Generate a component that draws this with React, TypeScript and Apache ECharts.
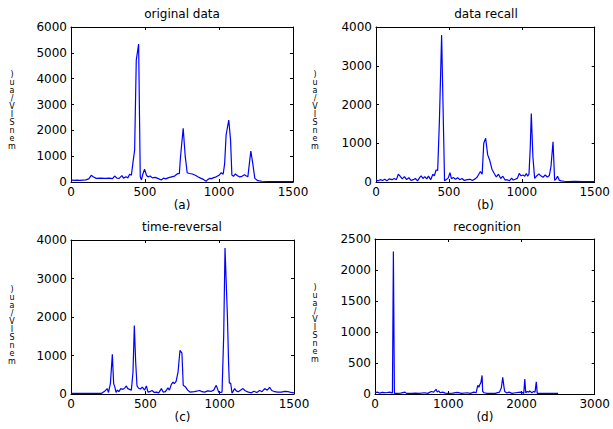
import React, { useEffect, useRef } from "react";
import * as echarts from "echarts";

// ---- data (x, y pairs) ----
const originalData: [number, number][] = [
  [0, 80], [20, 60], [40, 70], [60, 60], [80, 70], [100, 80], [120, 120], [137, 260], [150, 200], [170, 140],
  [200, 150], [230, 140], [260, 150], [280, 130], [295, 230], [310, 150], [325, 140], [344, 245], [355, 150],
  [372, 200], [385, 160], [396, 300], [408, 260], [418, 720], [430, 1240], [441, 4720], [457, 5340], [463, 2500],
  [468, 200], [476, 80], [485, 300], [497, 500], [510, 260], [520, 200], [535, 230], [550, 160], [570, 180],
  [590, 130], [610, 80], [625, 150], [640, 120], [660, 170], [680, 200], [700, 230], [715, 300], [722, 330],
  [732, 320], [740, 980], [758, 2080], [772, 980], [785, 360], [800, 330], [820, 310], [840, 260], [857, 200],
  [875, 150], [895, 100], [913, 30], [925, 100], [936, 140], [950, 130], [965, 170], [981, 200], [1000, 260],
  [1015, 360], [1028, 300], [1038, 700], [1048, 1820], [1066, 2400], [1078, 1630], [1087, 270], [1098, 220],
  [1111, 310], [1125, 240], [1140, 200], [1155, 220], [1172, 280], [1185, 230], [1195, 200], [1205, 700],
  [1215, 1200], [1228, 720], [1242, 140], [1262, 50], [1290, 30], [1330, 20], [1400, 15], [1450, 15], [1500, 15],
];

const recallData: [number, number][] = [
  [0, 50], [15, 30], [30, 60], [45, 40], [60, 70], [75, 30], [90, 80], [110, 60], [125, 90], [140, 60],
  [153, 200], [165, 150], [180, 80], [195, 140], [210, 60], [225, 110], [240, 40], [255, 60], [270, 90],
  [285, 30], [300, 120], [310, 160], [322, 90], [335, 140], [348, 80], [360, 150], [375, 60], [390, 200],
  [400, 160], [412, 310], [423, 300], [435, 1600], [450, 3790], [464, 1170], [470, 30], [480, 60], [495, 100],
  [507, 240], [518, 80], [530, 120], [545, 70], [560, 110], [575, 60], [590, 90], [605, 40], [626, 60],
  [645, 70], [660, 40], [680, 80], [694, 130], [705, 200], [716, 270], [728, 200], [739, 1000], [752, 1130],
  [766, 700], [780, 560], [795, 330], [811, 220], [825, 130], [840, 200], [855, 90], [870, 150], [885, 50],
  [900, 60], [915, 30], [930, 100], [941, 50], [955, 70], [970, 100], [982, 220], [995, 160], [1009, 180],
  [1020, 150], [1031, 220], [1040, 150], [1049, 200], [1058, 900], [1065, 1770], [1076, 650], [1088, 90],
  [1100, 150], [1117, 210], [1130, 160], [1145, 120], [1160, 180], [1175, 130], [1189, 170], [1200, 400],
  [1214, 1040], [1225, 40], [1235, 80], [1245, 150], [1258, 40], [1270, 30], [1290, 20], [1320, 10],
  [1360, 15], [1420, 10], [1500, 10],
];

const reversalData: [number, number][] = [
  [0, 15], [50, 15], [100, 15], [150, 15], [204, 15], [226, 70], [244, 140], [252, 40], [265, 270], [278, 1030],
  [287, 270], [295, 180], [303, 40], [312, 100], [322, 60], [335, 140], [350, 120], [362, 160], [372, 210],
  [382, 140], [394, 120], [406, 100], [417, 570], [426, 1780], [435, 830], [444, 210], [455, 150], [467, 130],
  [480, 180], [495, 100], [507, 210], [518, 50], [530, 60], [545, 90], [560, 40], [575, 50], [590, 30],
  [608, 140], [620, 50], [635, 60], [652, 160], [662, 100], [675, 250], [686, 310], [695, 270], [707, 330],
  [720, 570], [733, 1130], [746, 1070], [755, 225], [771, 180], [785, 100], [800, 50], [830, 60], [866, 90],
  [880, 60], [899, 50], [920, 80], [944, 70], [960, 100], [977, 225], [987, 120], [993, 50], [1005, 40],
  [1016, 50], [1027, 1500], [1036, 3790], [1045, 2800], [1052, 2040], [1060, 800], [1065, 285], [1074, 285],
  [1083, 20], [1092, 80], [1101, 140], [1112, 80], [1125, 60], [1140, 100], [1157, 140], [1170, 90],
  [1185, 60], [1200, 40], [1213, 30], [1230, 70], [1250, 40], [1269, 90], [1285, 60], [1303, 140],
  [1320, 100], [1336, 175], [1350, 90], [1370, 60], [1390, 50], [1415, 50], [1440, 70], [1460, 60],
  [1480, 40], [1500, 30],
];

const recognitionData: [number, number][] = [
  [0, 20], [30, 30], [60, 15], [100, 25], [150, 20], [200, 30], [238, 15], [251, 2300], [265, 10], [300, 10],
  [350, 15], [408, 30], [430, 10], [500, 10], [550, 15], [600, 10], [677, 20], [720, 10], [767, 40], [800, 30],
  [834, 75], [850, 30], [870, 50], [890, 20], [924, 30], [960, 15], [1000, 10], [1060, 15], [1125, 25],
  [1180, 10], [1260, 20], [1300, 10], [1350, 30], [1380, 20], [1403, 140], [1418, 110], [1430, 150],
  [1445, 180], [1462, 300], [1470, 40], [1490, 20], [1530, 10], [1580, 10], [1640, 10], [1700, 30],
  [1725, 100], [1744, 270], [1760, 120], [1771, 40], [1800, 15], [1830, 30], [1870, 10], [1920, 20],
  [1960, 25], [2000, 30], [2031, 10], [2045, 240], [2058, 20], [2080, 40], [2100, 30], [2112, 50],
  [2140, 20], [2165, 40], [2185, 30], [2202, 195], [2215, 10], [2250, 10], [2300, 10], [2400, 10], [2500, 10],
];

const panelTitles = ["original data", "data recall", "time-reversal", "recognition"];
const panelTags = ["(a)", "(b)", "(c)", "(d)"];
const xMax = [1500, 1500, 1500, 3000];
const xStep = [500, 500, 500, 1000];
const yMax = [6000, 4000, 4000, 2500];
const yStep = [1000, 1000, 1000, 500];
const yAxisLabel = ")\nu\na\n/\nV\nI\nS\nn\ne\nm";

const seriesData = [originalData, recallData, reversalData, recognitionData];

// layout
const grids = [
  { left: 71, top: 27, width: 222, height: 155 },
  { left: 376, top: 27, width: 222, height: 155 },
  { left: 71, top: 240, width: 223, height: 154 },
  { left: 375, top: 239, width: 223, height: 155 },
];
const titlePos = [
  { x: 182, y: 8 },
  { x: 486, y: 8 },
  { x: 182, y: 221 },
  { x: 487, y: 221 },
];
const yNamePos = [
  { x: 12, y: 70 },
  { x: 315, y: 70 },
  { x: 12, y: 285 },
  { x: 315, y: 283 },
];

const FONT = "DejaVu Sans";

function buildOption() {
  const xAxis: any[] = [];
  const yAxis: any[] = [];
  const series: any[] = [];
  const grid: any[] = [];
  const title: any[] = [];
  const graphic: any[] = [];
  const axisLine = { show: true, onZero: false, lineStyle: { color: "#000", width: 1 } };
  const tick = { show: true, inside: true, length: 3, lineStyle: { color: "#000" } };

  for (let i = 0; i < 4; i++) {
    grid.push({ ...grids[i], containLabel: false, show: false });
    xAxis.push({
      type: "value",
      gridIndex: i,
      position: "bottom",
      min: 0,
      max: xMax[i],
      interval: xStep[i],
      axisLine,
      axisTick: tick,
      splitLine: { show: false },
      axisLabel: {
        margin: 4,
        fontSize: 12,
        fontFamily: FONT,
        color: "#000",
        formatter: (v: number) => String(v),
      },
      name: panelTags[i],
      nameLocation: "middle",
      nameGap: 15,
      nameTextStyle: { fontSize: 12, fontFamily: FONT, color: "#000" },
    });
    xAxis.push({
      type: "value",
      gridIndex: i,
      position: "top",
      min: 0,
      max: xMax[i],
      interval: xStep[i],
      axisLine,
      axisTick: tick,
      splitLine: { show: false },
      axisLabel: { show: false },
    });
    yAxis.push({
      type: "value",
      gridIndex: i,
      position: "left",
      min: 0,
      max: yMax[i],
      interval: yStep[i],
      axisLine,
      axisTick: tick,
      splitLine: { show: false },
      axisLabel: {
        margin: 4,
        fontSize: 12,
        fontFamily: FONT,
        color: "#000",
        formatter: (v: number) => String(v),
      },
    });
    yAxis.push({
      type: "value",
      gridIndex: i,
      position: "right",
      min: 0,
      max: yMax[i],
      interval: yStep[i],
      axisLine,
      axisTick: tick,
      splitLine: { show: false },
      axisLabel: { show: false },
    });
    series.push({
      type: "line",
      xAxisIndex: i * 2,
      yAxisIndex: i * 2,
      data: seriesData[i],
      showSymbol: false,
      symbol: "none",
      lineStyle: { color: "#0000ff", width: 1.2 },
      silent: true,
    });
    title.push({
      text: panelTitles[i],
      left: titlePos[i].x,
      top: titlePos[i].y,
      textAlign: "center",
      padding: 0,
      textStyle: { fontSize: 12, fontWeight: "normal", fontFamily: FONT, color: "#000" },
    });
    graphic.push({
      type: "text",
      x: yNamePos[i].x,
      y: yNamePos[i].y,
      style: {
        text: yAxisLabel,
        fontSize: 8,
        lineHeight: 8,
        fontFamily: FONT,
        fill: "#000",
        align: "center",
        verticalAlign: "top",
      },
    });
  }

  return {
    animation: false,
    backgroundColor: "#fff",
    grid,
    xAxis,
    yAxis,
    series,
    title,
    graphic,
  };
}

export default function App() {
  const ref = useRef<HTMLDivElement>(null);
  useEffect(() => {
    if (!ref.current) return;
    const chart = echarts.init(ref.current, null, { renderer: "svg" });
    chart.setOption(buildOption() as any);
    return () => chart.dispose();
  }, []);
  return (
    <div
      ref={ref}
      style={{ position: "absolute", left: 0, top: 0, width: 613, height: 429, background: "#fff" }}
    />
  );
}
